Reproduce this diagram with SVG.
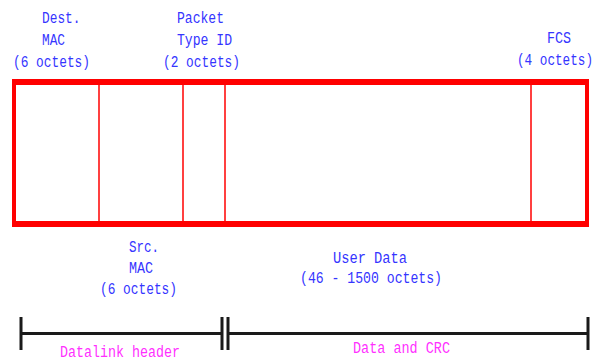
<svg xmlns="http://www.w3.org/2000/svg" width="601" height="360" viewBox="0 0 601 360">
<style>
.lbl{font-family:"Liberation Mono","DejaVu Sans Mono",monospace;font-size:16px;fill:#3535ff;}
.grp{font-family:"Liberation Mono","DejaVu Sans Mono",monospace;font-size:16px;fill:#ff30ff;}
.div{stroke:#ff0000;stroke-width:1.5;}
.br{stroke:#1a1a1a;stroke-width:3;fill:none;}
</style>
<rect width="601" height="360" fill="#ffffff"/>
<g id="frame">
<path d="M12,79 H589 V227 H12 Z M16,85 V221 H585 V85 Z" fill="#ff0000" fill-rule="evenodd"/>
<line class="div" x1="99" y1="85" x2="99" y2="221"/>
<line class="div" x1="183" y1="85" x2="183" y2="221"/>
<line class="div" x1="225" y1="85" x2="225" y2="221"/>
<line class="div" x1="531" y1="85" x2="531" y2="221"/>
</g>
<g id="dest-mac">
<text class="lbl" x="42" y="23" textLength="38.5" lengthAdjust="spacingAndGlyphs">Dest.</text>
<text class="lbl" x="42" y="45" textLength="23" lengthAdjust="spacingAndGlyphs">MAC</text>
<text class="lbl" x="13" y="67" textLength="77" lengthAdjust="spacingAndGlyphs">(6 octets)</text>
</g>
<g id="packet-type">
<text class="lbl" x="177" y="23" textLength="47" lengthAdjust="spacingAndGlyphs">Packet</text>
<text class="lbl" x="177" y="45" textLength="55" lengthAdjust="spacingAndGlyphs">Type ID</text>
<text class="lbl" x="163" y="67" textLength="77" lengthAdjust="spacingAndGlyphs">(2 octets)</text>
</g>
<g id="fcs">
<text class="lbl" x="547" y="43" textLength="24" lengthAdjust="spacingAndGlyphs">FCS</text>
<text class="lbl" x="517" y="65" textLength="76" lengthAdjust="spacingAndGlyphs">(4 octets)</text>
</g>
<g id="src-mac">
<text class="lbl" x="129" y="252" textLength="30" lengthAdjust="spacingAndGlyphs">Src.</text>
<text class="lbl" x="129" y="273" textLength="24" lengthAdjust="spacingAndGlyphs">MAC</text>
<text class="lbl" x="100" y="294" textLength="77" lengthAdjust="spacingAndGlyphs">(6 octets)</text>
</g>
<g id="user-data">
<text class="lbl" x="333" y="263" textLength="74" lengthAdjust="spacingAndGlyphs">User Data</text>
<text class="lbl" x="300" y="283" textLength="142" lengthAdjust="spacingAndGlyphs">(46 - 1500 octets)</text>
</g>
<g id="connectors">
<path class="br" d="M21,317 V350 M21,333.5 H222 M222,317 V350"/>
<path class="br" d="M228,317 V350 M228,333.5 H588 M588,317 V350"/>
</g>
<g id="datalink-header">
<text class="grp" x="60" y="357" textLength="120" lengthAdjust="spacingAndGlyphs">Datalink header</text>
</g>
<g id="data-crc">
<text class="grp" x="353" y="353" textLength="97" lengthAdjust="spacingAndGlyphs">Data and CRC</text>
</g>
</svg>
